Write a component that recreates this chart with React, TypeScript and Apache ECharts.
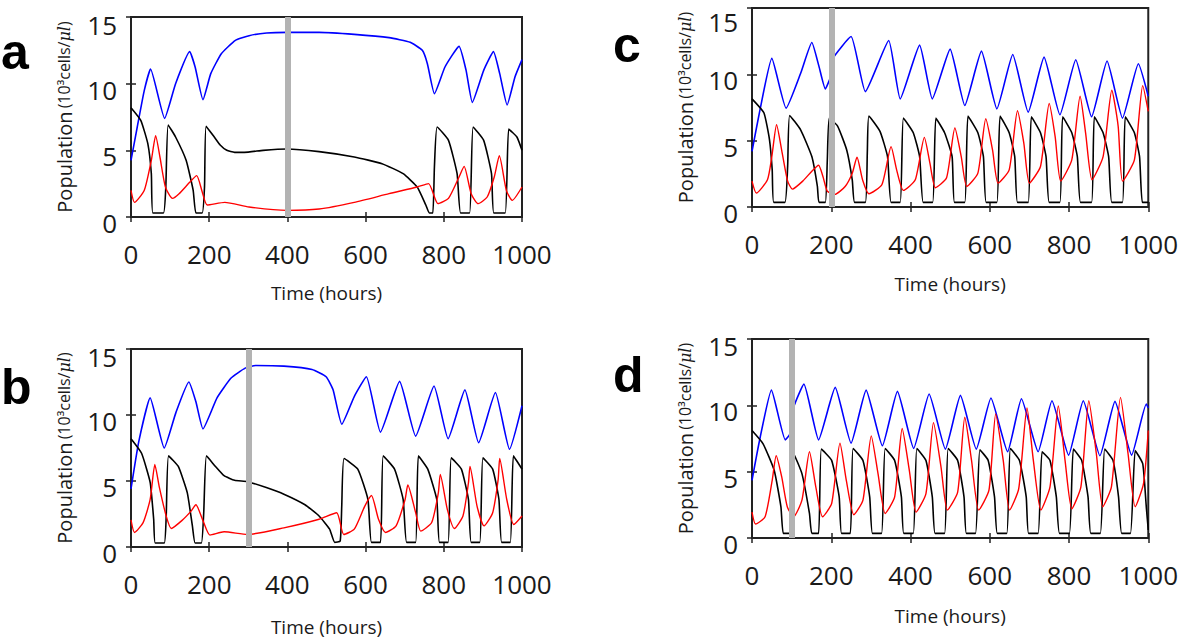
import React, { useEffect, useRef } from "react";
import * as echarts from "echarts";

// ---------- tick labels ----------
const xTicks = [0, 200, 400, 600, 800, 1000];
const yTicks = [0, 5, 10, 15];
const panelLetters = ["a", "b", "c", "d"];
const treatmentTimes = [400, 300, 200, 100];

// ---------- panel a ----------
const aBlue = [[0,4.25],[16,6.75],[34,9.5],[50,11.1],[86,7.4],[114,10],[150,12.4],[164,11.25],[184,8.8],[204,10.75],[231,12.25],[267,13.25],[302,13.6],[347,13.8],[399,13.85],[481,13.85],[571,13.7],[660,13.45],[714,13.1],[745,12.5],[758,11.5],[776,9.25],[803,11.25],[839,12.8],[857,11.0],[873,8.6],[902,11.0],[927,12.4],[943,10.75],[962,8.4],[982,10.5],[1000,11.8]];
const aBlack = [[0,8.2],[25,7.25],[43,5.5],[52,3.25],[56,0.3],[83,0.3],[89,2.25],[95,6.9],[114,6.0],[141,4.25],[159,2.0],[166,0.3],[182,0.3],[188,2.25],[192,6.8],[213,6.0],[228,5.4],[245,5.0],[265,4.85],[290,4.85],[338,5.0],[399,5.1],[481,4.9],[571,4.5],[642,4.0],[696,3.25],[732,2.25],[754,0.9],[763,0.3],[772,0.3],[776,3.75],[783,6.75],[812,5.75],[834,3.25],[843,0.3],[866,0.3],[875,6.75],[902,5.75],[922,3.25],[928,0.3],[957,0.3],[966,6.6],[987,6.0],[1000,5.0]];
const aRed = [[0,2.0],[9,1.1],[34,2.0],[52,4.25],[63,6.1],[74,4.5],[88,2.25],[106,1.4],[123,1.75],[150,2.6],[168,3.1],[182,1.9],[195,0.9],[240,1.1],[302,0.75],[399,0.5],[481,0.6],[571,1.1],[660,1.75],[732,2.25],[761,2.5],[785,1.0],[812,1.4],[839,3.0],[852,3.8],[870,1.75],[888,1.0],[911,1.5],[929,3.0],[942,4.6],[960,2.0],[975,1.25],[1000,2.25]];

// ---------- panel b ----------
const bBlue = [[0,4.4],[20,8.0],[49,11.3],[85,7.5],[115,10.2],[148,12.5],[166,11.0],[184,8.95],[220,11.3],[256,12.8],[292,13.55],[319,13.75],[391,13.7],[463,13.45],[499,12.9],[517,11.9],[539,9.3],[571,11.4],[602,12.9],[638,8.7],[687,12.55],[728,8.4],[775,12.2],[811,8.2],[854,11.9],[889,7.9],[932,11.7],[968,7.4],[1000,10.7]];
const bBlack = [[0,8.2],[27,7.1],[49,4.9],[58,2.1],[62,0.3],[85,0.3],[90,2.3],[96,6.9],[121,6.1],[144,4.1],[157,1.6],[164,0.3],[180,0.3],[186,2.6],[193,6.9],[216,6.1],[238,5.4],[265,5.05],[298,4.95],[346,4.5],[391,4.0],[445,3.2],[481,2.35],[508,1.35],[521,0.35],[535,0.45],[539,3.1],[545,6.7],[580,5.9],[606,3.6],[615,0.35],[638,0.35],[645,6.9],[674,5.9],[696,3.6],[705,0.35],[728,0.35],[735,6.9],[759,5.9],[782,3.6],[789,0.35],[811,0.35],[819,6.75],[845,5.9],[863,3.6],[870,0.35],[892,0.35],[900,6.75],[925,5.9],[941,3.6],[948,0.35],[970,0.35],[978,6.9],[1000,5.9]];
const bRed = [[0,2.05],[9,1.1],[31,1.85],[49,3.6],[61,6.25],[72,4.6],[90,2.35],[103,1.4],[130,2.0],[153,2.7],[166,3.2],[184,2.0],[202,0.9],[238,1.15],[298,0.95],[391,1.45],[481,2.1],[526,2.6],[544,0.95],[571,1.35],[598,3.1],[615,3.9],[633,2.1],[651,1.1],[678,1.6],[701,3.6],[708,4.7],[728,2.6],[741,1.2],[769,1.85],[786,4.1],[791,5.5],[809,2.85],[827,1.4],[849,2.35],[863,4.85],[867,6.1],[885,3.1],[903,1.6],[925,2.6],[939,5.1],[943,6.7],[961,3.6],[979,1.7],[1000,2.35]];

// ---------- panel c ----------
const cBlue = [[0,4.2],[20,7.3],[50,11.2],[86,7.45],[123,10.1],[151,12.4],[169,10.6],[185,8.9],[198,9.8],[203,11.15],[250,12.85],[286,8.7],[345,12.55],[374,8.15],[423,12.2],[455,8.15],[500,11.9],[537,7.65],[579,11.75],[618,7.4],[658,11.5],[697,7.15],[737,11.3],[777,6.95],[817,11.1],[857,6.8],[896,11.0],[935,6.7],[975,10.8],[1000,8.35]];
const cBlack = [[0,8.15],[30,7.1],[44,5.1],[51,2.8],[55,0.35],[83,0.35],[90,3.1],[95,6.9],[123,5.8],[151,3.8],[165,1.55],[169,0.35],[185,0.35],[190,3.5],[195,6.7],[216,6.1],[239,4.3],[253,2.05],[259,0.35],[286,0.35],[291,4.1],[295,6.85],[323,5.7],[342,3.8],[351,0.35],[374,0.35],[382,6.7],[407,5.6],[423,3.8],[432,0.35],[456,0.35],[464,6.7],[486,5.6],[505,3.8],[511,0.35],[537,0.35],[545,6.85],[570,5.6],[584,3.8],[591,0.35],[618,0.35],[626,6.85],[649,5.6],[663,3.8],[670,0.35],[697,0.35],[705,6.8],[728,5.6],[742,3.8],[750,0.35],[777,0.35],[784,6.8],[807,5.6],[821,3.8],[829,0.35],[857,0.35],[864,6.8],[886,5.6],[900,3.8],[908,0.35],[935,0.35],[942,6.8],[965,5.6],[978,3.8],[985,0.35],[1000,0.35]];
const cRed = [[0,1.95],[11,1.05],[39,2.05],[50,3.8],[62,6.2],[76,4.1],[90,1.95],[102,1.35],[128,1.95],[151,2.7],[168,3.15],[179,2.3],[190,1.2],[209,0.95],[235,1.55],[253,2.55],[265,3.75],[279,2.05],[295,1.0],[328,1.7],[351,4.55],[365,2.8],[382,1.25],[412,2.05],[435,5.25],[449,3.3],[463,1.45],[491,2.2],[512,5.95],[528,3.8],[542,1.55],[570,2.55],[590,6.65],[607,4.3],[621,1.8],[649,2.8],[670,7.25],[686,4.8],[700,1.8],[728,3.05],[750,7.8],[765,5.3],[779,1.95],[807,3.55],[828,8.35],[842,5.55],[858,2.05],[886,3.8],[908,8.8],[924,6.1],[935,1.95],[965,3.55],[986,9.15],[1000,7.2]];

// ---------- panel d ----------
const dBlue = [[0,4.35],[19,7.35],[49,11.15],[84,7.4],[95,7.8],[105,9.85],[131,11.6],[168,7.4],[210,11.35],[250,7.15],[288,11.15],[329,6.95],[367,11.05],[408,6.75],[447,10.85],[488,6.7],[526,10.75],[566,6.7],[603,10.55],[645,6.5],[680,10.5],[722,6.5],[757,10.35],[799,6.25],[836,10.35],[878,6.2],[916,10.3],[958,6.25],[995,10.1],[1000,9.8]];
const dBlack = [[0,8.1],[28,7.1],[56,5.1],[73,2.35],[79,0.35],[95,0.35],[100,3.0],[105,6.35],[126,4.85],[145,1.85],[151,0.35],[168,0.35],[175,6.7],[201,5.85],[220,3.1],[226,0.35],[248,0.35],[255,6.75],[280,5.85],[297,3.1],[304,0.35],[327,0.35],[336,6.75],[360,5.85],[377,3.1],[383,0.35],[407,0.35],[416,6.75],[439,5.85],[455,3.1],[462,0.35],[486,0.35],[495,6.75],[519,5.85],[535,3.1],[541,0.35],[564,0.35],[575,6.65],[596,5.85],[612,3.1],[619,0.35],[643,0.35],[652,6.75],[675,5.85],[692,3.1],[698,0.35],[722,0.35],[732,6.5],[752,5.85],[768,3.1],[776,0.35],[801,0.35],[811,6.7],[832,5.85],[848,3.1],[855,0.35],[879,0.35],[890,6.7],[911,5.85],[925,3.1],[933,0.35],[955,0.35],[967,6.6],[986,5.6],[995,2.35],[1000,0.6]];
const dRed = [[0,1.95],[9,1.05],[33,1.6],[51,4.35],[61,6.2],[75,4.6],[89,2.35],[105,1.6],[126,2.85],[145,6.5],[161,3.85],[178,1.6],[201,2.6],[222,7.15],[238,4.35],[257,1.75],[280,2.85],[301,7.7],[318,4.85],[336,1.85],[360,3.1],[379,8.25],[397,5.1],[414,1.95],[439,3.35],[458,8.7],[477,5.35],[493,2.1],[519,3.45],[537,9.1],[554,5.85],[572,2.1],[598,3.6],[615,9.35],[634,5.85],[650,2.1],[673,3.7],[694,9.8],[710,5.85],[729,2.1],[752,3.85],[773,9.95],[790,5.85],[807,2.2],[830,3.85],[850,10.35],[869,6.35],[885,2.35],[907,3.85],[930,10.6],[949,6.35],[967,2.35],[988,4.1],[1000,8.1]];

const blueSeries = [aBlue, bBlue, cBlue, dBlue];
const blackSeries = [aBlack, bBlack, cBlack, dBlack];
const redSeries = [aRed, bRed, cRed, dRed];

// layout (pixels)
const grids = [
  { left: 131, top: 17, width: 391, height: 200 },
  { left: 131, top: 349, width: 391, height: 198 },
  { left: 752, top: 8, width: 398, height: 199 },
  { left: 752, top: 339, width: 398, height: 199 },
];
const xNameGaps = [66, 70, 67, 68];
const topLabelLineHeights = [16, 16, 28, 14];
const letterPos = [
  [1, 52],
  [1, 387],
  [613, 45],
  [613, 375],
];

const FONT = "'Open Sans', 'Liberation Sans', sans-serif";
const TXT = "#1a1a1a";

export default function App() {
  const ref = useRef<HTMLDivElement>(null);
  useEffect(() => {
    if (!ref.current) return;
    const chart = echarts.init(ref.current, null, { renderer: "svg" });
    const xAxis: any[] = [];
    const yAxis: any[] = [];
    const series: any[] = [];
    grids.forEach((g, i) => {
      const tick = { show: true, inside: true, length: 5, lineStyle: { color: "#222", width: 1.5 } };
      xAxis.push({
        type: "value", gridIndex: i, min: xTicks[0], max: xTicks[xTicks.length - 1], interval: 200, position: "bottom",
        axisLine: { show: false }, axisTick: tick, splitLine: { show: false },
        axisLabel: { fontSize: 26, color: TXT, fontFamily: FONT, margin: 24, formatter: (v: number) => String(v) },
        name: "Time (hours)", nameLocation: "middle", nameGap: xNameGaps[i],
        nameTextStyle: { fontSize: 19, color: TXT, fontFamily: FONT },
      });
      xAxis.push({
        type: "value", gridIndex: i, min: 0, max: 1000, interval: 200, position: "top",
        axisLine: { show: false }, axisTick: tick, splitLine: { show: false }, axisLabel: { show: false },
      });
      yAxis.push({
        type: "value", gridIndex: i, min: yTicks[0], max: yTicks[yTicks.length - 1], interval: 5, position: "left",
        axisLine: { show: false }, axisTick: tick, splitLine: { show: false },
        axisLabel: {
          color: TXT, fontFamily: FONT, fontSize: 26, margin: 14, verticalAlign: "top",
          formatter: (v: number) => (v === yTicks[yTicks.length - 1] ? "{t|" + v + "}" : "{n|" + v + "}"),
          rich: {
            t: { fontSize: 26, color: TXT, fontFamily: FONT, lineHeight: topLabelLineHeights[i] },
            n: { fontSize: 26, color: TXT, fontFamily: FONT, lineHeight: 12 },
          },
        },
        name: "{p|Population} {s|(10³cells/}{i|μl}{s|)}", nameLocation: "middle", nameGap: 57, nameRotate: 90,
        nameTextStyle: {
          color: TXT, fontFamily: FONT,
          rich: {
            p: { fontSize: 20, color: TXT, fontFamily: FONT },
            s: { fontSize: 16, color: TXT, fontFamily: FONT },
            i: { fontSize: 16, color: TXT, fontFamily: "'DejaVu Serif', serif", fontStyle: "italic" },
          },
        },
      });
      yAxis.push({
        type: "value", gridIndex: i, min: 0, max: 15, interval: 5, position: "right",
        axisLine: { show: false }, axisTick: tick, splitLine: { show: false }, axisLabel: { show: false },
      });
      const common = { type: "line", xAxisIndex: 2 * i, yAxisIndex: 2 * i, showSymbol: false, symbol: "none", silent: true };
      series.push({ ...common, name: "blue" + i, data: blueSeries[i], smooth: 0.15, lineStyle: { color: "#0000ff", width: 1.6 }, z: 2 });
      series.push({ ...common, name: "black" + i, data: blackSeries[i], smooth: 0.15, lineStyle: { color: "#000000", width: 1.6 }, z: 2 });
      series.push({ ...common, name: "red" + i, data: redSeries[i], smooth: 0.2, lineStyle: { color: "#ff0000", width: 1.4 }, z: 2 });
      series.push({
        ...common, name: "treat" + i, data: [], z: 5,
        markLine: {
          silent: true, symbol: ["none", "none"], label: { show: false },
          lineStyle: { color: "#b3b3b3", width: 6, type: "solid" },
          data: [{ xAxis: treatmentTimes[i] }],
        },
      });
    });
    chart.setOption({
      animation: false,
      backgroundColor: "#ffffff",
      grid: grids.map((g) => ({ ...g, show: true, borderColor: "#222", borderWidth: 2, backgroundColor: "transparent", containLabel: false })),
      xAxis, yAxis, series,
      graphic: panelLetters.map((l, i) => ({
        type: "text", x: letterPos[i][0], y: letterPos[i][1], z: 10,
        style: { text: l, fill: "#000", font: "bold 50px 'Liberation Sans', Arial, sans-serif", textAlign: "left", textVerticalAlign: "middle" },
      })),
    });
    return () => chart.dispose();
  }, []);
  return <div ref={ref} style={{ position: "fixed", left: 0, top: 0, width: 1181, height: 639, background: "#fff" }} />;
}
